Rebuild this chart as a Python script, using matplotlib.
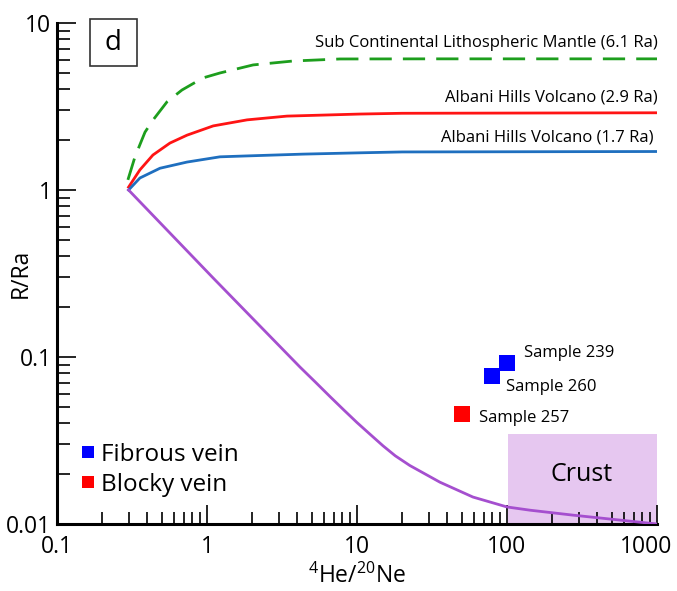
import numpy as np
import matplotlib
matplotlib.use("Agg")
import matplotlib.pyplot as plt
from matplotlib.patches import Rectangle
from matplotlib.transforms import ScaledTranslation

plt.rcParams.update({
    "font.family": ["Open Sans", "DejaVu Sans"],
    "mathtext.fontset": "custom",
    "mathtext.rm": "Open Sans",
    "mathtext.it": "Open Sans",
})

# mixing curves
scl_x = [0.297, 0.331, 0.386, 0.436, 0.541, 0.681, 0.94, 1.22, 2.03, 3.74, 7.7, 30, 1000]
scl_y = [1.15, 1.58, 2.22, 2.62, 3.37, 3.97, 4.69, 5.02, 5.61, 5.92, 6.09, 6.1, 6.1]

ahv29_x = [0.3, 0.357, 0.436, 0.566, 0.736, 1.10, 1.85, 3.41, 10.5, 20, 1000]
ahv29_y = [1.04, 1.32, 1.62, 1.91, 2.13, 2.42, 2.63, 2.77, 2.85, 2.88, 2.9]

ahv17_x = [0.3, 0.357, 0.486, 0.736, 1.22, 1.85, 4.37, 10.5, 20, 1000]
ahv17_y = [1.0, 1.18, 1.35, 1.47, 1.58, 1.60, 1.64, 1.67, 1.69, 1.7]

crust_line_x = [0.3, 1.10, 4.17, 5.3, 6.6, 8.2, 10, 12.2, 14.9, 18, 22.5, 35.7, 59.3, 100, 142, 275, 1000]
crust_line_y = [1.0, 0.297, 0.087, 0.0705, 0.0580, 0.0480, 0.0405, 0.0345, 0.0294, 0.0256,
                0.0224, 0.0178, 0.0145, 0.01265, 0.0121, 0.0113, 0.0100]

# samples
fibrous_x = [100, 79]
fibrous_y = [0.092, 0.077]
fibrous_names = ["Sample 239", "Sample 260"]
blocky_x = [50]
blocky_y = [0.0456]
blocky_names = ["Sample 257"]

crust_box_x = [102, 1000]
crust_box_y = [0.01, 0.0346]

fig = plt.figure(figsize=(6.77, 5.91), dpi=100)
ax = fig.add_axes([57/677, 1-524/591, 600/677, 501/591])

ax.fill_between(crust_box_x, crust_box_y[0], crust_box_y[1], color="#e6c7f0", lw=0, zorder=1)
ax.text(316, 0.0197, "Crust", fontsize=18, ha="center", va="center", zorder=2)

ax.plot(scl_x, scl_y, color="#1d9e1d", lw=2, dashes=(8, 4), zorder=3)
ax.plot(ahv29_x, ahv29_y, color="#ff1414", lw=2, zorder=3)
ax.plot(ahv17_x, ahv17_y, color="#1f6fbf", lw=2, zorder=3)
ax.plot(crust_line_x, crust_line_y, color="#a54fcf", lw=2, zorder=3)

ax.plot(fibrous_x, fibrous_y, "s", color="#0000ff", ms=11.5, mew=0, ls="none",
        label="Fibrous vein", zorder=4)
ax.plot(blocky_x, blocky_y, "s", color="#ff0000", ms=11.5, mew=0, ls="none",
        label="Blocky vein", zorder=4)

ax.text(130, 0.1057, fibrous_names[0], fontsize=12, va="center")
ax.text(98.5, 0.066, fibrous_names[1], fontsize=12, va="center")
ax.text(65, 0.0431, blocky_names[0], fontsize=12, va="center")

ax.text(1010, 7.6, "Sub Continental Lithospheric Mantle (6.1 Ra)", fontsize=12, ha="right", va="center")
ax.text(1010, 3.56, "Albani Hills Volcano (2.9 Ra)", fontsize=12, ha="right", va="center")
ax.text(950, 2.05, "Albani Hills Volcano (1.7 Ra)", fontsize=12, ha="right", va="center")

ax.set_xscale("log")
ax.set_yscale("log")
ax.set_xlim(0.1, 1000)
ax.set_ylim(0.01, 10)
ax.set_xticks([0.1, 1, 10, 100, 1000])
ax.set_xticklabels(["0.1", "1", "10", "100", "1000"])
ax.set_yticks([0.01, 0.1, 1, 10])
ax.set_yticklabels(["0.01", "0.1", "1", "10"])

for s in ["top", "right"]:
    ax.spines[s].set_visible(False)
for s in ["left", "bottom"]:
    ax.spines[s].set_linewidth(2.2)
ax.tick_params(which="major", direction="in", length=14, width=1.2, labelsize=16.5)
ax.tick_params(which="minor", direction="in", length=9, width=1.2)
ax.tick_params(axis="x", which="major", pad=8)
ax.tick_params(axis="y", which="major", pad=4)

# last x label sits a bit left of its tick in the original
lab = ax.xaxis.get_major_ticks()[-1].label1
lab.set_transform(lab.get_transform() + ScaledTranslation(-0.11, 0, fig.dpi_scale_trans))

ax.set_ylabel("R/Ra", fontsize=16.5)
ax.yaxis.set_label_coords(-0.04, 0.5)
ax.set_xlabel(r"$\mathregular{^{4}He/^{20}Ne}$", fontsize=16.5, labelpad=3)

leg = ax.legend(loc="lower left", bbox_to_anchor=(0.035, 0.054), frameon=False,
                fontsize=17.5, markerscale=0.7, handlelength=0.8, handletextpad=0.15,
                borderpad=0, borderaxespad=0, labelspacing=0.25)

ax.add_patch(Rectangle((0.055, 0.914), 0.078, 0.094, transform=ax.transAxes,
                       fill=False, ec="#333333", lw=1.2, clip_on=False))
ax.text(0.094, 0.961, "d", transform=ax.transAxes, fontsize=20, ha="center", va="center")

fig.savefig("out.png", dpi=100)
